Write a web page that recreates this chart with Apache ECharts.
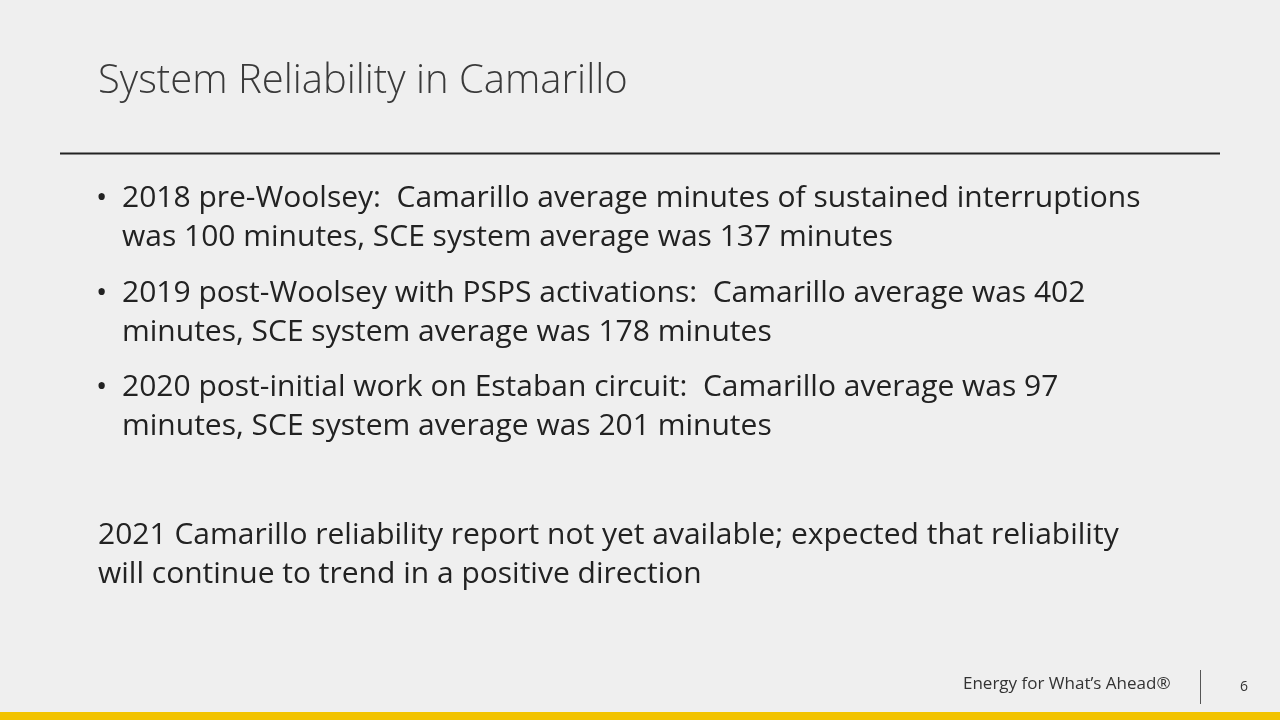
<!DOCTYPE html>
<html><head><meta charset="utf-8">
<script src="https://cdn.jsdelivr.net/npm/echarts@6/dist/echarts.min.js"></script>
<style>html,body{margin:0;padding:0;background:#efefef}#c{width:1280px;height:720px}</style>
</head><body><div id="c"></div>
<script>
const years = ['2018', '2019', '2020'];
const camarilloMinutes = [100, 402, 97];
const sceMinutes = [137, 178, 201];
const bulletLines = [
  ['2018 pre-Woolsey:  Camarillo average minutes of sustained interruptions', 'was 100 minutes, SCE system average was 137 minutes'],
  ['2019 post-Woolsey with PSPS activations:  Camarillo average was 402', 'minutes, SCE system average was 178 minutes'],
  ['2020 post-initial work on Estaban circuit:  Camarillo average was 97', 'minutes, SCE system average was 201 minutes']
];
const noteLines = ['2021 Camarillo reliability report not yet available; expected that reliability', 'will continue to trend in a positive direction'];
const title = 'System Reliability in Camarillo';

const font = '"Open Sans", "Noto Sans", sans-serif';
const g = [];
g.push({type:'rect', shape:{x:0,y:0,width:1280,height:720}, style:{fill:'#efefef'}});
g.push({type:'text', x:98, y:62, style:{text:title, font:'300 40px '+font, fill:'#3a3a3a'}});
g.push({type:'line', shape:{x1:60,y1:153.5,x2:1220,y2:153.5}, style:{stroke:'#222',lineWidth:2}});
const bulletTop = [183, 278, 372];
bulletLines.forEach((ls, i) => {
  g.push({type:'text', x:96, y:bulletTop[i], style:{text:'•', font:'30px '+font, fill:'#222'}});
  ls.forEach((l, j) => g.push({type:'text', x:122, y:bulletTop[i] + j*39, style:{text:l, font:'30px '+font, fill:'#222'}}));
});
noteLines.forEach((l, j) => g.push({type:'text', x:98, y:520 + j*39, style:{text:l, font:'30px '+font, fill:'#222'}}));
g.push({type:'text', x:963, y:676, style:{text:'Energy for What\u2019s Ahead\u00AE', font:'17px '+font, fill:'#333'}});
g.push({type:'line', shape:{x1:1200.5,y1:670,x2:1200.5,y2:704}, style:{stroke:'#555',lineWidth:1}});
g.push({type:'text', x:1240, y:680, style:{text:'6', font:'14px '+font, fill:'#333'}});
g.push({type:'rect', shape:{x:0,y:712,width:1280,height:8}, style:{fill:'#f2c300'}});

const chart = echarts.init(document.getElementById('c'));
chart.setOption({
  animation:false,
  backgroundColor:'#efefef',
  xAxis:{show:false, type:'category', data:years},
  yAxis:{show:false},
  grid:{left:-100,top:-100,width:10,height:10},
  series:[
    {type:'bar', name:'Camarillo', data:camarilloMinutes, silent:true, itemStyle:{opacity:0}},
    {type:'bar', name:'SCE', data:sceMinutes, silent:true, itemStyle:{opacity:0}}
  ],
  graphic:g
});
</script></body></html>
